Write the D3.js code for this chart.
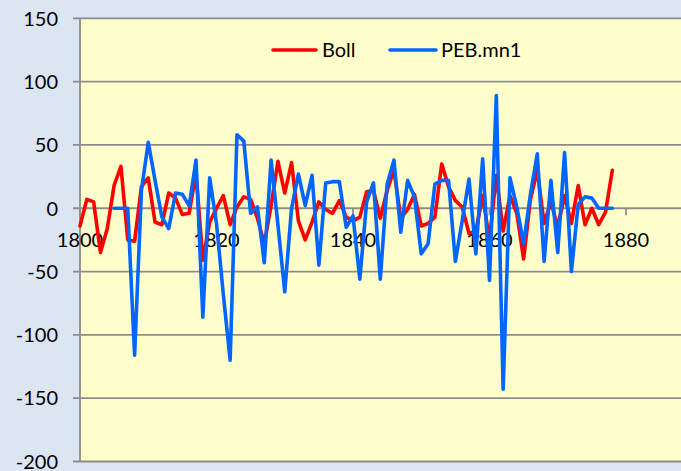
<!DOCTYPE html>
<html>
<head>
<meta charset="utf-8">
<script src="https://cdn.jsdelivr.net/npm/d3@7"></script>
<style>
  html, body { margin: 0; padding: 0; background: #DCE6F2; }
  svg { display: block; }
  text { font-family: Lato, "Open Sans", sans-serif; fill: #000; }
</style>
</head>
<body>
<script>
// ---- data ----
const bollStart = 1800;
const bollValues = [
  -14, 7, 5, -35, -16, 18, 33, -25, -26, 17,
  24, -11, -13, 12, 8, -5, -4, 28, -41, -11,
  0, 10, -13, 1, 9, 7, -8, -28, 2, 37,
  12, 36, -10, -25, -11, 5, -1, -4, 6, -7,
  -10, -7, 13, 14, -8, 14, 30, -8, -1, 11,
  -14, -12, -7, 35, 17, 6, 1, -20, -18, 10,
  -25, 26, -18, 10, -4, -40, 7, 30, -12, 5,
  -15, 10, -12, 18, -13, 0, -13, -3, 30
];
const pebStart = 1805;
const pebValues = [
  0, 0, 0, -116, 14, 52, 22, -7, -16, 12,
  11, 2, 38, -86, 24, -12, -68, -120, 58, 53,
  -4, 1, -43, 38, -13, -66, 0, 27, 2, 26,
  -45, 20, 21, 21, -15, -6, -56, 5, 20, -56,
  19, 38, -19, 22, 9, -36, -28, 19, 22, 22,
  -42, -10, 23, -36, 39, -57, 89, -143, 24, 1,
  -28, 11, 43, -42, 22, -35, 44, -50, 3, 9,
  8, 0, 0, 0
];
const seriesNames = ["Boll", "PEB.mn1"];
const seriesColors = ["#FF0000", "#0066FF"];
const xTicks = [1800, 1820, 1840, 1860, 1880];
const yTicks = [-200, -150, -100, -50, 0, 50, 100, 150];

const boll = bollValues.map((v, i) => ({ x: bollStart + i, y: v }));
const peb = pebValues.map((v, i) => ({ x: pebStart + i, y: v }));

// ---- layout ----
const W = 681, H = 471;
const svg = d3.select("body").append("svg").attr("width", W).attr("height", H);

svg.append("rect").attr("width", W).attr("height", H).attr("fill", "#DCE6F2");

const x = d3.scaleLinear().domain([1800, 1880]).range([80, 626]);
const y = d3.scaleLinear().domain([-200, 150]).range([461.5, 18.3]);

// plot area
svg.append("rect")
  .attr("x", x(1800)).attr("y", y(150))
  .attr("width", W - x(1800)).attr("height", y(-200) - y(150))
  .attr("fill", "#FFFFCC");

// horizontal gridlines
svg.append("g").selectAll("line").data(yTicks).join("line")
  .attr("x1", x(1800) - 7).attr("x2", W)
  .attr("y1", d => y(d)).attr("y2", d => y(d))
  .attr("stroke", "#8C8C8C").attr("stroke-width", 1.8);

// vertical axis line
svg.append("line")
  .attr("x1", x(1800)).attr("x2", x(1800))
  .attr("y1", y(150)).attr("y2", y(-200))
  .attr("stroke", "#8C8C8C").attr("stroke-width", 1.8);

// y labels
svg.append("g").selectAll("text").data(yTicks).join("text")
  .attr("x", 58).attr("y", d => y(d) + 7.3)
  .attr("text-anchor", "end").attr("font-size", "20px")
  .text(d => d);

// x tick marks
svg.append("g").selectAll("line").data(xTicks).join("line")
  .attr("x1", d => x(d)).attr("x2", d => x(d))
  .attr("y1", y(0)).attr("y2", y(0) + 7)
  .attr("stroke", "#8C8C8C").attr("stroke-width", 1.8);

// x labels
svg.append("g").selectAll("text").data(xTicks).join("text")
  .attr("x", d => x(d)).attr("y", 247)
  .attr("text-anchor", "middle").attr("font-size", "20px")
  .text(d => d);

// lines
const line = d3.line().x(d => x(d.x)).y(d => y(d.y));
[boll, peb].forEach((data, i) => {
  svg.append("path")
    .datum(data)
    .attr("fill", "none")
    .attr("stroke", seriesColors[i])
    .attr("stroke-width", 3.6)
    .attr("stroke-linejoin", "round")
    .attr("stroke-linecap", "round")
    .attr("d", line);
});

// legend
const legendItems = [
  { name: seriesNames[0], color: seriesColors[0], x1: 273, x2: 316, tx: 322 },
  { name: seriesNames[1], color: seriesColors[1], x1: 390, x2: 436, tx: 441 }
];
const lg = svg.append("g");
legendItems.forEach(it => {
  lg.append("line")
    .attr("x1", it.x1).attr("x2", it.x2).attr("y1", 50).attr("y2", 50)
    .attr("stroke", it.color).attr("stroke-width", 3.6).attr("stroke-linecap", "round");
  lg.append("text")
    .attr("x", it.tx).attr("y", 57.3).attr("font-size", "20px")
    .text(it.name);
});
</script>
</body>
</html>
